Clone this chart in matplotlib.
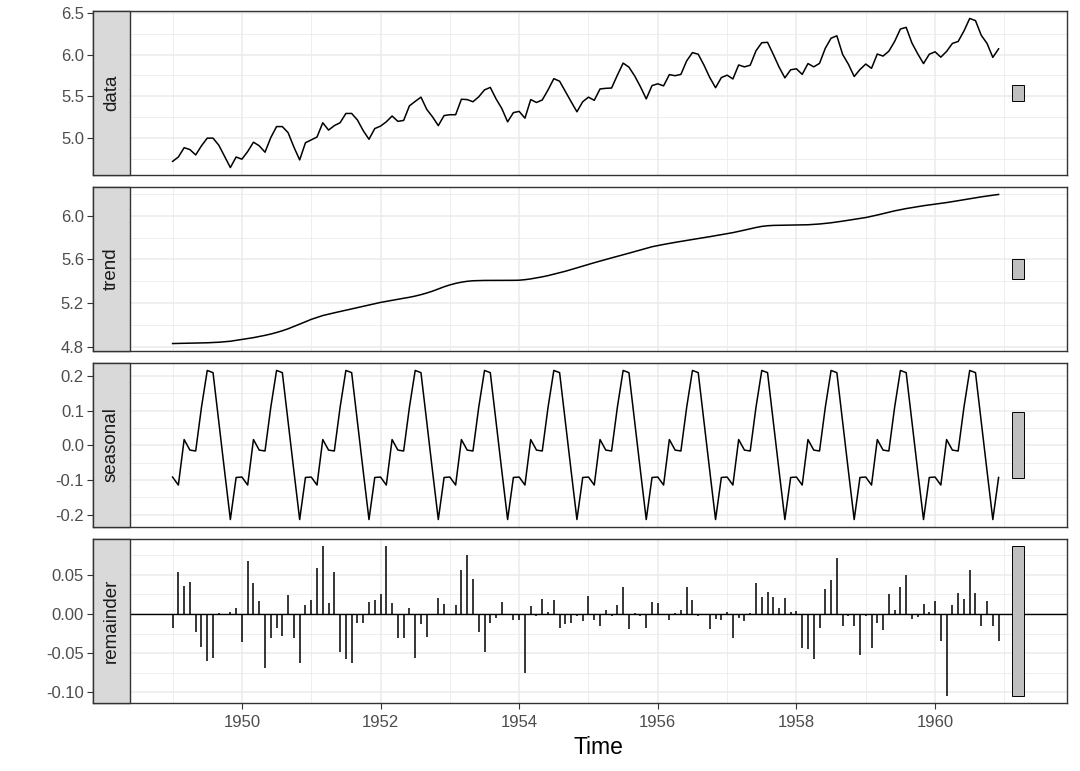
import numpy as np
import matplotlib
matplotlib.use("Agg")
import matplotlib.pyplot as plt
from matplotlib.patches import Rectangle

plt.rcParams['font.family'] = ['Liberation Sans', 'DejaVu Sans']

# ---------------- data ----------------
start_year = 1949
freq = 12

passengers = [
    112, 118, 132, 129, 121, 135, 148, 148, 136, 119, 104, 118,
    115, 126, 141, 135, 125, 149, 170, 170, 158, 133, 114, 140,
    145, 150, 178, 163, 172, 178, 199, 199, 184, 162, 146, 166,
    171, 180, 193, 181, 183, 218, 230, 242, 209, 191, 172, 194,
    196, 196, 236, 235, 229, 243, 264, 272, 237, 211, 180, 201,
    204, 188, 235, 227, 234, 264, 302, 293, 259, 229, 203, 229,
    242, 233, 267, 269, 270, 315, 364, 347, 312, 274, 237, 278,
    284, 277, 317, 313, 318, 374, 413, 405, 355, 306, 271, 306,
    315, 301, 356, 348, 355, 422, 465, 467, 404, 347, 305, 336,
    340, 318, 362, 348, 363, 435, 491, 505, 404, 359, 310, 337,
    360, 342, 406, 396, 420, 472, 548, 559, 463, 407, 362, 405,
    417, 391, 419, 461, 472, 535, 622, 606, 508, 461, 390, 432,
]

trend = [
    4.831, 4.832, 4.832, 4.833, 4.834, 4.836, 4.838, 4.840, 4.843, 4.847, 4.852, 4.860,
    4.868, 4.876, 4.885, 4.895, 4.906, 4.918, 4.932, 4.948, 4.966, 4.987, 5.008, 5.030,
    5.052, 5.070, 5.087, 5.100, 5.112, 5.124, 5.136, 5.148, 5.160, 5.172, 5.184, 5.196,
    5.207, 5.216, 5.226, 5.236, 5.245, 5.254, 5.265, 5.278, 5.293, 5.310, 5.330, 5.350,
    5.367, 5.381, 5.392, 5.400, 5.405, 5.407, 5.408, 5.408, 5.408, 5.408, 5.408, 5.409,
    5.410, 5.415, 5.422, 5.431, 5.441, 5.452, 5.465, 5.478, 5.492, 5.507, 5.523, 5.539,
    5.555, 5.570, 5.585, 5.600, 5.614, 5.628, 5.642, 5.657, 5.672, 5.688, 5.703, 5.716,
    5.727, 5.737, 5.747, 5.756, 5.765, 5.774, 5.783, 5.791, 5.799, 5.808, 5.817, 5.826,
    5.835, 5.845, 5.856, 5.868, 5.880, 5.892, 5.902, 5.908, 5.911, 5.912, 5.913, 5.913,
    5.914, 5.915, 5.917, 5.920, 5.924, 5.929, 5.935, 5.942, 5.950, 5.958, 5.966, 5.974,
    5.983, 5.994, 6.006, 6.019, 6.032, 6.044, 6.055, 6.065, 6.074, 6.083, 6.091, 6.098,
    6.104, 6.112, 6.120, 6.128, 6.137, 6.146, 6.155, 6.164, 6.172, 6.180, 6.187, 6.194,
]

seasonal_pattern = [-0.0916, -0.1146, 0.0164, -0.0139, -0.0165, 0.1094,
                    0.2155, 0.2092, 0.0668, -0.0745, -0.2140, -0.0928]

remainder = [
    -0.018, 0.054, 0.036, 0.041, -0.023, -0.042, -0.060, -0.056, 0.001, -0.001, 0.003, 0.007,
    -0.036, 0.067, 0.040, 0.016, -0.069, -0.031, -0.018, -0.028, 0.024, -0.031, -0.062, 0.011,
    0.018, 0.059, 0.086, 0.014, 0.054, -0.048, -0.057, -0.062, -0.011, -0.012, 0.015, 0.018,
    0.025, 0.086, 0.014, -0.031, -0.031, 0.008, -0.056, -0.013, -0.030, 0.000, 0.020, 0.013,
    0.000, 0.011, 0.056, 0.075, 0.044, -0.023, -0.048, -0.011, -0.005, 0.015, 0.000, -0.008,
    -0.008, -0.075, 0.010, -0.003, 0.019, 0.003, 0.018, -0.018, -0.013, -0.012, -0.003, -0.009,
    0.023, -0.008, -0.015, 0.005, -0.003, 0.011, 0.034, -0.019, 0.001, -0.003, -0.018, 0.015,
    0.014, 0.000, -0.008, 0.001, 0.005, 0.034, 0.018, -0.003, 0.000, -0.019, -0.007, -0.008,
    0.002, -0.031, -0.005, -0.009, 0.001, 0.040, 0.022, 0.028, 0.021, 0.007, 0.020, 0.003,
    0.004, -0.043, -0.045, -0.058, -0.018, 0.032, 0.043, 0.071, -0.016, -0.003, -0.015, -0.052,
    -0.003, -0.043, -0.012, -0.020, 0.026, 0.005, 0.034, 0.050, -0.006, -0.004, 0.013, 0.003,
    0.016, -0.035, -0.104, 0.012, 0.027, 0.019, 0.056, 0.027, -0.015, 0.016, -0.016, -0.035,
]

part_names = ["data", "trend", "seasonal", "remainder"]

x_major = [1950, 1952, 1954, 1956, 1958, 1960]
x_minor = [1949, 1951, 1953, 1955, 1957, 1959, 1961]
x_labels = ["1950", "1952", "1954", "1956", "1958", "1960"]

y_major = {
    "data": [5.0, 5.5, 6.0, 6.5],
    "trend": [4.8, 5.2, 5.6, 6.0],
    "seasonal": [-0.2, -0.1, 0.0, 0.1, 0.2],
    "remainder": [-0.10, -0.05, 0.00, 0.05],
}
y_labels = {
    "data": ["5.0", "5.5", "6.0", "6.5"],
    "trend": ["4.8", "5.2", "5.6", "6.0"],
    "seasonal": ["-0.2", "-0.1", "0.0", "0.1", "0.2"],
    "remainder": ["-0.10", "-0.05", "0.00", "0.05"],
}
y_minor = {
    "data": [4.75, 5.25, 5.75, 6.25],
    "trend": [5.0, 5.4, 5.8, 6.2],
    "seasonal": [-0.15, -0.05, 0.05, 0.15],
    "remainder": [-0.075, -0.025, 0.025, 0.075],
}

# ---------------- series ----------------
n = len(passengers)
time = start_year + np.arange(n) / freq
series = {
    "data": np.log(np.array(passengers, dtype=float)),
    "trend": np.array(trend),
    "seasonal": np.tile(seasonal_pattern, n // freq),
    "remainder": np.array(remainder),
}

# range bars (as in forecast::autoplot.stl)
t0, t1 = time[0], time[-1]
barwidth = (t1 - t0) / 64.0
bar_left = t1 + barwidth
bar_right = t1 + 2 * barwidth
ranges = {k: (v.min(), v.max()) for k, v in series.items()}
barlength = min(r[1] - r[0] for r in ranges.values())
barmid = {k: (r[0] + r[1]) / 2 for k, r in ranges.items()}

# ---------------- layout ----------------
W, H = 1080, 771
fig = plt.figure(figsize=(W / 100, H / 100), dpi=100)

outer_left, strip_right, panel_right = 93, 130, 1067
panel_tops = [11, 187, 363, 539]
panel_h = 164

x_lo = t0
x_hi = bar_right
xpad = 0.05 * (x_hi - x_lo)
data_lo = x_lo - xpad
data_hi = x_hi + xpad
strip_px = strip_right - outer_left
data_px = panel_right - strip_right
strip_years = strip_px / data_px * (data_hi - data_lo)
xlim = (data_lo - strip_years, data_hi)
strip_frac = strip_px / (panel_right - outer_left)

grid_col = "#EBEBEB"
border_col = "#333333"

axes = []
for i, name in enumerate(part_names):
    top = panel_tops[i]
    ax = fig.add_axes([outer_left / W, 1 - (top + panel_h) / H,
                       (panel_right - outer_left) / W, panel_h / H])
    axes.append(ax)
    y = series[name]

    lo = min(y.min(), barmid[name] - barlength / 2)
    hi = max(y.max(), barmid[name] + barlength / 2)
    ypad = 0.05 * (hi - lo)
    ax.set_ylim(lo - ypad, hi + ypad)
    ax.set_xlim(*xlim)

    # grid
    ax.set_axisbelow(True)
    for xv in x_major:
        ax.axvline(xv, color=grid_col, lw=1.1, zorder=0)
    for xv in x_minor:
        ax.axvline(xv, color=grid_col, lw=0.6, zorder=0)
    for yv in y_major[name]:
        ax.axhline(yv, color=grid_col, lw=1.1, zorder=0)
    for yv in y_minor[name]:
        ax.axhline(yv, color=grid_col, lw=0.6, zorder=0)

    if name == "remainder":
        ax.axhline(0, color="black", lw=1.0, zorder=2)
        ax.vlines(time, 0, y, color="black", lw=1.1, zorder=2)
    else:
        ax.plot(time, y, color="black", lw=1.1, zorder=2)

    ax.add_patch(Rectangle((bar_left, barmid[name] - barlength / 2),
                           bar_right - bar_left, barlength,
                           facecolor="#BFBFBF", edgecolor="black", lw=0.7, zorder=3))

    # strip (left, inside)
    ax.add_patch(Rectangle((0, 0), strip_frac, 1, transform=ax.transAxes,
                           facecolor="#D9D9D9", edgecolor=border_col, lw=1.0,
                           zorder=5, clip_on=False))
    ax.text(strip_frac / 2, 0.5, name, transform=ax.transAxes, rotation=90,
            ha="center", va="center", fontsize=13.5, color="#1A1A1A", zorder=6)

    for sp in ax.spines.values():
        sp.set_color(border_col)
        sp.set_linewidth(1.0)

    ax.set_yticks(y_major[name])
    ax.set_yticklabels(y_labels[name])
    ax.tick_params(axis="y", direction="out", length=4.5, width=0.8,
                   color=border_col, labelcolor="#4D4D4D", labelsize=12, pad=2)
    ax.set_xticks(x_major)
    if i < 3:
        ax.tick_params(axis="x", length=0, labelbottom=False)
    else:
        ax.set_xticklabels(x_labels)
        ax.tick_params(axis="x", direction="out", length=4.5, width=0.8,
                       color=border_col, labelcolor="#4D4D4D", labelsize=12, pad=4)

# x-axis title centred on the data area
fig.text((strip_right + panel_right) / 2 / W, 1 - 748 / H, "Time",
         ha="center", va="center", fontsize=16.5, color="black")

fig.savefig("out.png", dpi=100)
